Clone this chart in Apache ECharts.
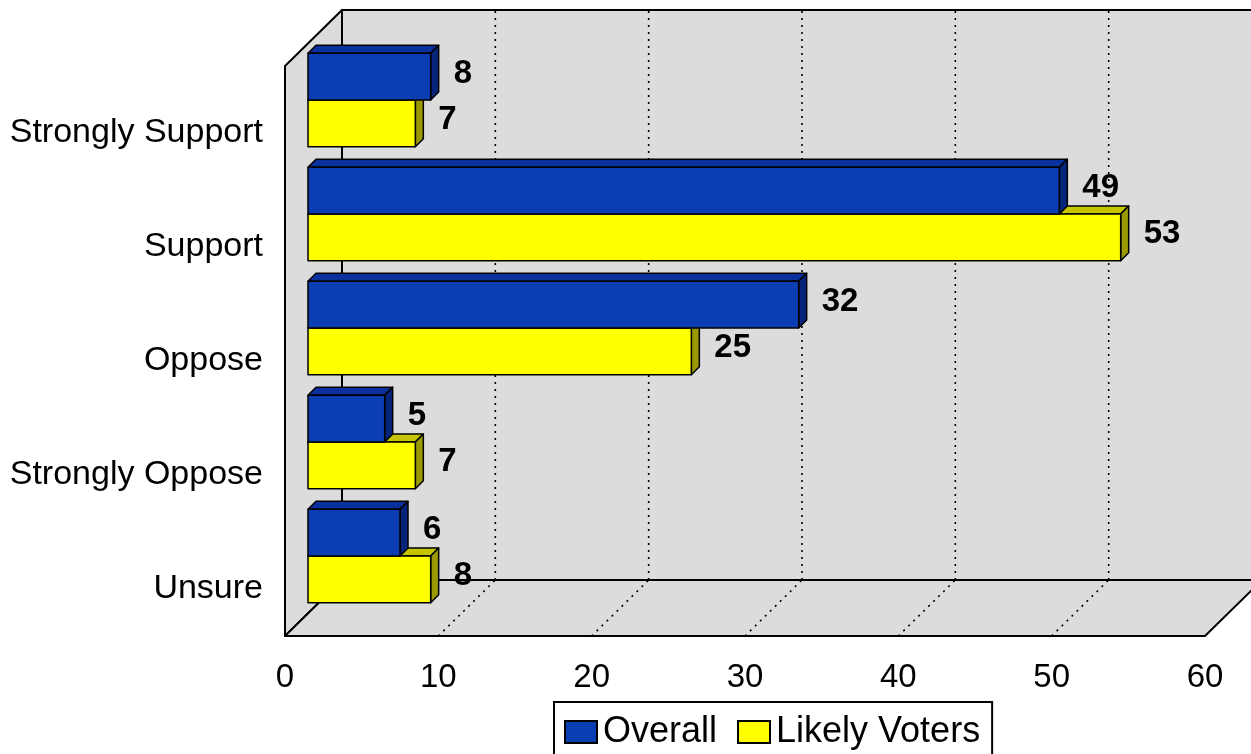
<!DOCTYPE html>
<html>
<head>
<meta charset="utf-8">
<script src="https://cdn.jsdelivr.net/npm/echarts@6/dist/echarts.min.js"></script>
<style>
html,body{margin:0;padding:0;background:#fff;}
#chart{width:1251px;height:754px;}
</style>
</head>
<body>
<div id="chart"></div>
<script>
const categories = ['Strongly Support', 'Support', 'Oppose', 'Strongly Oppose', 'Unsure'];
const overall = [8, 49, 32, 5, 6];
const likelyVoters = [7, 53, 25, 7, 8];
const xTicks = [0, 10, 20, 30, 40, 50, 60];

const FONT = 'Arial, "Liberation Sans", sans-serif';
const DEPTH = [57, -56];      // wall depth offset
const BAR_SHIFT = [23, -23];  // bar front face position inside depth
const BAR_THICK = 8;          // bar 3D thickness

const palette = {
  overall: {front: '#0b3db3', top: '#0a309e', side: '#06247a'},
  likely: {front: '#ffff00', top: '#c4c400', side: '#9a9a00'}
};

function barRenderer(seriesIdx, colors) {
  return function (params, api) {
    const v = api.value(0), ci = api.value(1);
    const p0 = api.coord([0, ci]);
    const p1 = api.coord([v, ci]);
    const band = api.size([0, 1])[1];
    const h = band * 0.41;
    const L = p0[0] + BAR_SHIFT[0], R = p1[0] + BAR_SHIFT[0];
    const mid = p0[1] + BAR_SHIFT[1];
    const T = seriesIdx === 0 ? mid - h : mid;
    const B = seriesIdx === 0 ? mid : mid + h;
    const t = BAR_THICK;
    const line = {stroke: '#000', lineWidth: 1.5, lineJoin: 'round'};
    return {
      type: 'group',
      children: [
        {type: 'polygon', shape: {points: [[L, T], [R, T], [R + t, T - t], [L + t, T - t]]},
          style: Object.assign({fill: colors.top}, line)},
        {type: 'polygon', shape: {points: [[R, T], [R + t, T - t], [R + t, B - t], [R, B]]},
          style: Object.assign({fill: colors.side}, line)},
        {type: 'rect', shape: {x: L, y: T, width: R - L, height: B - T},
          style: Object.assign({fill: colors.front}, line)},
        {type: 'text', z2: 100, style: {text: String(v), x: R + t + 15, y: (T + B) / 2 - 3,
          textAlign: 'left', textVerticalAlign: 'middle', fill: '#000',
          font: 'bold 33px ' + FONT}}
      ]
    };
  };
}

function frameRenderer(params, api) {
  const n = categories.length;
  const x0 = api.coord([xTicks[0], 0])[0];
  const xMax = api.coord([xTicks[xTicks.length - 1], 0])[0];
  const band = api.size([0, 1])[1];
  const top = api.coord([0, 0])[1] - band / 2;
  const bottom = api.coord([0, n - 1])[1] + band / 2;
  const dx = DEPTH[0], dy = DEPTH[1];
  const wall = {fill: '#dcdcdc', stroke: '#000', lineWidth: 2, lineJoin: 'round'};
  const children = [
    {type: 'polygon', shape: {points: [[x0 + dx, top + dy], [xMax + dx, top + dy], [xMax + dx, bottom + dy], [x0 + dx, bottom + dy]]}, style: wall},
    {type: 'polygon', shape: {points: [[x0, top], [x0 + dx, top + dy], [x0 + dx, bottom + dy], [x0, bottom]]}, style: wall},
    {type: 'polygon', shape: {points: [[x0, bottom], [xMax, bottom], [xMax + dx, bottom + dy], [x0 + dx, bottom + dy]]}, style: wall}
  ];
  const dash = {stroke: '#000', lineWidth: 1.6, lineDash: [2, 5]};
  xTicks.forEach(function (tv, k) {
    if (k === 0 || k === xTicks.length - 1) return;
    const xv = api.coord([tv, 0])[0];
    children.push({type: 'line', shape: {x1: xv, y1: bottom, x2: xv + dx, y2: bottom + dy}, style: dash});
    children.push({type: 'line', shape: {x1: xv + dx, y1: bottom + dy, x2: xv + dx, y2: top + dy}, style: dash});
  });
  return {type: 'group', children: children};
}

const chart = echarts.init(document.getElementById('chart'), null, {renderer: 'canvas'});
chart.setOption({
  animation: false,
  backgroundColor: '#ffffff',
  textStyle: {fontFamily: FONT},
  grid: {left: 285, right: 46, top: 66, bottom: 118, containLabel: false},
  xAxis: {
    type: 'value', min: xTicks[0], max: xTicks[xTicks.length - 1], interval: 10,
    axisLine: {show: false}, axisTick: {show: false}, splitLine: {show: false},
    axisLabel: {fontSize: 33, color: '#000', margin: 25, fontFamily: FONT}
  },
  yAxis: {
    type: 'category', data: categories, inverse: true,
    axisLine: {show: false}, axisTick: {show: false}, splitLine: {show: false},
    axisLabel: {fontSize: 34, color: '#000', margin: 22, fontFamily: FONT,
      verticalAlign: 'top', lineHeight: 20}
  },
  legend: {
    data: ['Overall', 'Likely Voters'],
    left: 554, top: 702,
    orient: 'horizontal',
    icon: 'rect',
    itemWidth: 32, itemHeight: 22, itemGap: 20,
    padding: [12, 12, 30, 10],
    borderColor: '#000', borderWidth: 2,
    textStyle: {fontSize: 36, color: '#000', fontFamily: FONT, padding: [0, 0, 0, 1]},
    selectedMode: false
  },
  series: [
    {
      name: 'frame', type: 'custom', z: 1, clip: false, silent: true,
      data: [[0, 0]], encode: {x: 0, y: 1},
      renderItem: frameRenderer
    },
    {
      name: 'Overall', type: 'custom', z: 4, clip: false,
      itemStyle: {color: palette.overall.front, borderColor: '#000', borderWidth: 1.5},
      data: overall.map(function (v, i) { return [v, i]; }),
      encode: {x: 0, y: 1},
      renderItem: barRenderer(0, palette.overall)
    },
    {
      name: 'Likely Voters', type: 'custom', z: 3, clip: false,
      itemStyle: {color: palette.likely.front, borderColor: '#000', borderWidth: 1.5},
      data: likelyVoters.map(function (v, i) { return [v, i]; }),
      encode: {x: 0, y: 1},
      renderItem: barRenderer(1, palette.likely)
    }
  ]
});
</script>
</body>
</html>
